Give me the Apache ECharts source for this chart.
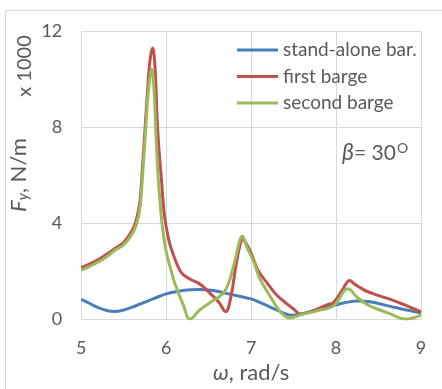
<!DOCTYPE html>
<html><head><meta charset="utf-8">
<script src="https://cdn.jsdelivr.net/npm/echarts@6/dist/echarts.min.js"></script>
<style>html,body{margin:0;padding:0;background:#fff}#c{width:442px;height:389px}</style>
</head><body><div id="c"></div>
<script>
// omega (rad/s), Fy (x1000 N/m)
const blueW = [5.0,5.1,5.2,5.3,5.39,5.5,5.6,5.7,5.8,5.9,6.0,6.1,6.2,6.3,6.4,6.5,6.6,6.7,6.8,6.9,7.0,7.1,7.2,7.3,7.4,7.47,7.6,7.7,7.8,7.9,8.0,8.1,8.25,8.4,8.5,8.6,8.7,8.8,8.9,9.0];
const blueF = [0.82,0.65,0.48,0.36,0.32,0.38,0.5,0.64,0.78,0.92,1.05,1.13,1.19,1.22,1.23,1.21,1.16,1.08,1.0,0.92,0.84,0.7,0.54,0.38,0.23,0.16,0.22,0.32,0.42,0.52,0.6,0.68,0.75,0.72,0.65,0.56,0.48,0.4,0.33,0.26];
const redW = [5.0,5.1,5.2,5.3,5.4,5.5,5.6,5.65,5.69,5.72,5.75,5.78,5.81,5.84,5.87,5.89,5.91,5.94,5.98,6.03,6.08,6.15,6.2,6.3,6.4,6.53,6.62,6.7,6.76,6.82,6.87,6.9,6.95,7.0,7.08,7.2,7.3,7.4,7.5,7.58,7.7,7.8,7.9,7.97,8.08,8.16,8.22,8.3,8.36,8.5,8.64,8.8,9.0];
const redF = [2.14,2.3,2.48,2.7,2.95,3.2,3.7,4.15,4.9,6.3,7.9,9.5,10.8,11.29,10.4,8.6,7.3,6.0,4.3,3.3,2.72,2.1,1.85,1.63,1.45,1.03,0.7,0.31,0.9,2.2,3.1,3.32,3.1,2.75,2.04,1.45,1.0,0.7,0.42,0.21,0.3,0.45,0.6,0.69,1.25,1.61,1.45,1.28,1.16,0.98,0.82,0.6,0.3];
const greenW = [5.0,5.1,5.2,5.3,5.4,5.5,5.6,5.65,5.69,5.72,5.76,5.79,5.83,5.86,5.88,5.9,5.92,5.95,6.0,6.06,6.1,6.2,6.28,6.4,6.53,6.69,6.8,6.86,6.895,6.95,7.04,7.1,7.2,7.35,7.45,7.6,7.78,7.97,8.14,8.25,8.36,8.5,8.64,8.81,9.0];
const greenF = [2.04,2.2,2.38,2.6,2.88,3.1,3.55,3.95,4.6,5.9,8.0,9.5,10.42,9.3,7.6,6.2,5.2,4.0,2.8,2.0,1.5,0.6,0.0,0.4,0.72,1.16,2.3,3.2,3.46,3.0,2.3,1.7,1.09,0.28,0.05,0.2,0.35,0.55,1.26,0.9,0.62,0.4,0.22,0.0,0.17];
const xTicks = [5,6,7,8,9];
const yTicks = [0,4,8,12];
const names = ['stand-alone bar.','first barge','second barge'];
const colors = ['#4A7EBB','#C0504D','#9BBB59'];

const zip = (a,b)=>a.map((v,i)=>[v,b[i]]);
const txt = '#595959';
const font = 'Lato';
const chart = echarts.init(document.getElementById('c'));
chart.setOption({
  animation:false,
  backgroundColor:'#fff',
  textStyle:{fontFamily:font},
  grid:{left:79,right:21,top:31,bottom:62},
  xAxis:{type:'value',min:xTicks[0],max:xTicks[xTicks.length-1],interval:1,
    axisLine:{show:true,lineStyle:{color:'#d9d9d9',width:1}},axisTick:{show:false},
    splitLine:{show:true,lineStyle:{color:'#d9d9d9',width:1}},
    axisLabel:{color:txt,fontSize:18,fontFamily:font,margin:20},
    name:'{i|ω}, rad/s',nameLocation:'middle',nameGap:38,
    nameTextStyle:{color:txt,fontSize:22,fontFamily:font,rich:{i:{fontStyle:'italic',fontSize:22,color:txt,fontFamily:font}}}},
  yAxis:{type:'value',min:yTicks[0],max:yTicks[yTicks.length-1],interval:4,
    axisLine:{show:false},axisTick:{show:false},
    splitLine:{show:true,lineStyle:{color:'#d9d9d9',width:1}},
    axisLabel:{color:txt,fontSize:18,fontFamily:font,margin:19},
    name:'{i|F}{s|y}, N/m',nameLocation:'middle',nameGap:42,nameRotate:90,
    nameTextStyle:{color:txt,fontSize:22,fontFamily:font,rich:{
      i:{fontStyle:'italic',fontSize:22,color:txt,fontFamily:font},
      s:{fontStyle:'italic',fontSize:15,color:txt,fontFamily:font,verticalAlign:'bottom',padding:[8,0,0,0]}}}},
  legend:{orient:'vertical',left:232,top:34,itemWidth:41,itemHeight:3,icon:'rect',itemGap:4.5,
    textStyle:{color:txt,fontSize:19,fontFamily:font,lineHeight:22,padding:[0,0,0,0]},
    data:names},
  graphic:[
    {type:'rect',shape:{x:5.5,y:10.5,width:600,height:600},style:{fill:'none',stroke:'#d9d9d9',lineWidth:1},silent:true},
    {type:'text',x:25,y:66,rotation:Math.PI/2,style:{text:'x 1000',fill:txt,fontSize:20,fontFamily:font,align:'center',verticalAlign:'middle'}},
    {type:'text',x:342,y:153,style:{text:'{b|β}{t|= 30}{o|O}',fill:txt,verticalAlign:'middle',
      rich:{b:{fontStyle:'italic',fontSize:23,fill:txt,fontFamily:font},t:{fontSize:21,fill:txt,fontFamily:font},o:{fontSize:14,fill:txt,fontFamily:font,verticalAlign:'top',padding:[0,0,10,1]}}}}
  ],
  series:[
    {name:names[0],type:'line',data:zip(blueW,blueF),smooth:0.4,showSymbol:false,lineStyle:{width:3,color:colors[0]},itemStyle:{color:colors[0]}},
    {name:names[1],type:'line',data:zip(redW,redF),smooth:0.4,showSymbol:false,lineStyle:{width:3,color:colors[1]},itemStyle:{color:colors[1]}},
    {name:names[2],type:'line',data:zip(greenW,greenF),smooth:0.4,showSymbol:false,lineStyle:{width:3,color:colors[2]},itemStyle:{color:colors[2]}}
  ]
});
</script></body></html>
